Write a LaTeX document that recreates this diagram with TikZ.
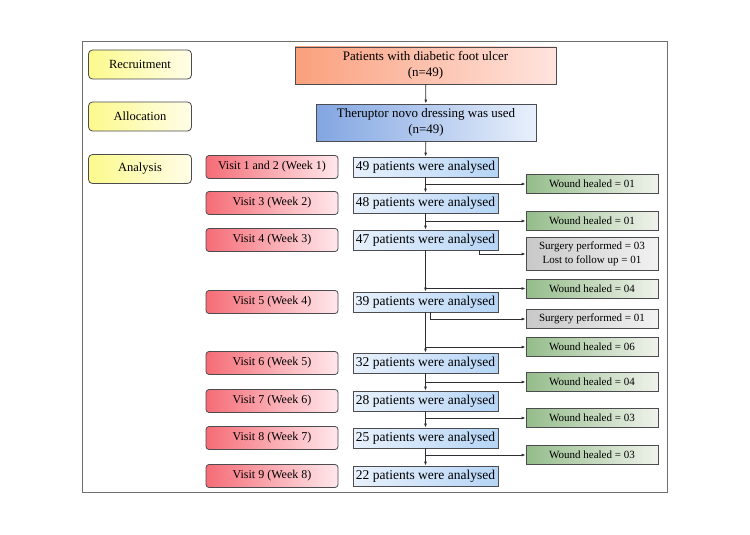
\documentclass[tikz,border=0pt]{standalone}
\usepackage{xcolor}
\usepackage{fontspec}
\setmainfont{Liberation Serif}
\usepackage{tikz}
\usetikzlibrary{arrows.meta, positioning, calc}
\definecolor{mydark}{RGB}{45,45,50}
\definecolor{myframe}{RGB}{110,110,110}
\definecolor{myedge}{RGB}{75,75,80}
\definecolor{ylwL}{RGB}{252,250,140}
\definecolor{ylwR}{RGB}{255,253,232}
\definecolor{orgL}{RGB}{250,160,125}
\definecolor{orgR}{RGB}{255,228,222}
\definecolor{bluL}{RGB}{130,165,225}
\definecolor{bluR}{RGB}{232,240,252}
\definecolor{cntL}{RGB}{232,241,252}
\definecolor{cntR}{RGB}{182,213,246}
\definecolor{grnL}{RGB}{148,188,138}
\definecolor{grnR}{RGB}{240,243,236}
\definecolor{gryL}{RGB}{200,200,200}
\definecolor{gryR}{RGB}{242,242,242}
\definecolor{redL}{RGB}{245,108,118}
\definecolor{redR}{RGB}{255,232,236}
\tikzset{
  phasebox/.style={rectangle, draw=myedge, left color=ylwL, right color=ylwR,
    minimum width=103pt, minimum height=29pt, inner sep=0pt,
    font=\fontsize{12.5}{14}\selectfont, rounded corners=4pt, line width=0.8pt},
  topbox/.style={rectangle, draw=myedge, align=center, inner sep=0pt,
    minimum height=37pt, font=\fontsize{13}{16}\selectfont, line width=0.8pt},
  visitbox/.style={rectangle, draw=myedge, left color=redL, right color=redR,
    minimum width=132pt, minimum height=23pt, inner sep=0pt,
    font=\fontsize{12}{14}\selectfont, rounded corners=3pt, line width=0.8pt},
  countbox/.style={rectangle, draw=myedge, left color=cntL, right color=cntR,
    minimum width=145pt, minimum height=20pt, inner sep=0pt,
    font=\fontsize{13.5}{15}\selectfont, line width=0.8pt},
  healbox/.style={rectangle, draw=myedge, left color=grnL, right color=grnR,
    minimum width=132pt, minimum height=19pt, inner sep=0pt,
    font=\fontsize{11}{13}\selectfont, line width=0.8pt},
  lossbox/.style={healbox, left color=gryL, right color=gryR, align=center},
  arrow/.style={-{Latex[length=4pt,width=3pt]}, line width=0.8pt, color=mydark},
  line/.style={line width=0.8pt, color=mydark}
}

\begin{document}
\begin{tikzpicture}[x=1pt, y=-1pt]
  \useasboundingbox (0,0) rectangle (750,535);
  \draw[myframe, line width=1pt] (82,42) rectangle (667,492);

  % phases
  \node[phasebox] (recruit) at (140,64.5) {Recruitment};
  \node[phasebox] (alloc) at (140,116.5) {Allocation};
  \node[phasebox] (analysis) at (140,169) {Analysis};

  \node[topbox, minimum width=261pt, left color=orgL, right color=orgR] (patients) at (425.5,65.5)
    {Patients with diabetic foot ulcer\\(n=49)};
  \node[topbox, minimum width=220pt, left color=bluL, right color=bluR] (dressing) at (426,122.5)
    {Theruptor novo dressing was used\\(n=49)};

  % visits and counts
  \foreach \i/\y/\vis/\num in {1/167/Visit 1 and 2 (Week 1)/49, 2/203/Visit 3 (Week 2)/48,
      3/240/Visit 4 (Week 3)/47, 4/302/Visit 5 (Week 4)/39, 5/363/Visit 6 (Week 5)/32,
      6/401/Visit 7 (Week 6)/28, 7/438/Visit 8 (Week 7)/25, 8/476/Visit 9 (Week 8)/22} {
    \node[visitbox] (visit\i) at (272,\y) {\vis};
    \node[countbox] (count\i) at (425.5,\y) {\num\ patients were analysed};
  }

  % outcomes
  \node[healbox] (heal1) at (592,184) {Wound healed = 01};
  \node[healbox] (heal2) at (592,221) {Wound healed = 01};
  \node[lossbox, minimum height=33pt, font=\fontsize{11}{14}\selectfont] (loss1) at (592,254)
    {Surgery performed = 03\\Lost to follow up = 01};
  \node[healbox] (heal3) at (592,288.5) {Wound healed = 04};
  \node[lossbox] (loss2) at (592,319) {Surgery performed = 01};
  \node[healbox] (heal4) at (592,347) {Wound healed = 06};
  \node[healbox] (heal5) at (592,382) {Wound healed = 04};
  \node[healbox] (heal6) at (592,418) {Wound healed = 03};
  \node[healbox] (heal7) at (592,455) {Wound healed = 03};

  \draw[arrow] (patients) -- (dressing);
  \draw[arrow] (dressing) -- (count1);
  \foreach \i [evaluate=\i as \j using int(\i+1)] in {1,...,7}
    \draw[arrow] (count\i) -- (count\j);

  \draw[arrow] (heal1.west -| count1.south) -- (heal1.west);
  \draw[arrow] (heal2.west -| count2.south) -- (heal2.west);
  \draw[arrow] ([xshift=53.5pt]count3.south) |- (loss1.west);
  \draw[arrow] (heal3.west -| count3.south) -- (heal3.west);
  \draw[arrow] ([xshift=4.5pt]count4.south) |- (loss2.west);
  \draw[arrow] (heal4.west -| count4.south) -- (heal4.west);
  \draw[arrow] (heal5.west -| count5.south) -- (heal5.west);
  \draw[arrow] (heal6.west -| count6.south) -- (heal6.west);
  \draw[arrow] (heal7.west -| count7.south) -- (heal7.west);
\end{tikzpicture}
\end{document}
